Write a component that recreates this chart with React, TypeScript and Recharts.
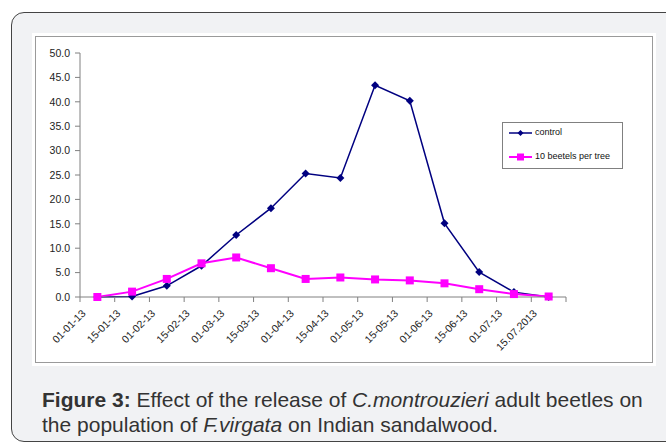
import React from 'react'
import { LineChart, Line, XAxis, YAxis } from 'recharts'

const dates = [
  '01-01-13', '15-01-13', '01-02-13', '15-02-13', '01-03-13', '15-03-13', '01-04-13',
  '15-04-13', '01-05-13', '15-05-13', '01-06-13', '15-06-13', '01-07-13', '15.07.2013',
]
const control = [0, 0.1, 2.3, 6.4, 12.7, 18.2, 25.3, 24.4, 43.4, 40.2, 15.1, 5.1, 1.0, 0]
const beetles = [0, 1.1, 3.7, 6.9, 8.1, 5.9, 3.7, 4.0, 3.6, 3.4, 2.8, 1.6, 0.6, 0.1]
const yTicks = [0, 5, 10, 15, 20, 25, 30, 35, 40, 45, 50]

const chartData = dates.map((d, i) => ({
  pos: i + 0.5,
  date: d,
  control: control[i],
  beetles: beetles[i],
}))

const FONT = '"Liberation Sans", Arial, sans-serif'
const CHART_W = 618
const CHART_H = 327
const MARGIN = { top: 17, right: 87, left: 5, bottom: 0 }
const Y_W = 40
const BAND = (CHART_W - MARGIN.left - MARGIN.right - Y_W) / dates.length

const Diamond = (props: any) => {
  const { cx, cy } = props
  if (cx == null || cy == null) return null
  return <path d={`M${cx},${cy - 4}L${cx + 4},${cy}L${cx},${cy + 4}L${cx - 4},${cy}Z`} fill="#000080" />
}

const Square = (props: any) => {
  const { cx, cy } = props
  if (cx == null || cy == null) return null
  return <rect x={cx - 4} y={cy - 4} width={8} height={8} fill="#ff00ff" />
}

const DateTick = (props: any) => {
  const { x, y, payload } = props
  const label = dates[payload.value]
  if (!label) return null
  const ax = x + BAND / 2 - 11
  const ay = y + 10
  return (
    <text
      x={ax}
      y={ay}
      textAnchor="end"
      fontSize={10.5}
      fontFamily={FONT}
      fill="#222"
      transform={`rotate(-45 ${ax} ${ay})`}
    >
      {label}
    </text>
  )
}

const LegendBox = () => (
  <div
    style={{
      position: 'absolute',
      left: 502,
      top: 122,
      width: 121,
      height: 47,
      border: '1px solid #808080',
      boxSizing: 'border-box',
      background: '#fff',
      fontFamily: FONT,
      fontSize: 9,
      color: '#111',
    }}
  >
    <svg width={30} height={45} style={{ position: 'absolute', left: 5, top: 0 }}>
      <line x1={1} y1={10} x2={24} y2={10} stroke="#000080" strokeWidth={1.5} />
      <path d="M12.5,7L15.5,10L12.5,13L9.5,10Z" fill="#000080" />
      <line x1={1} y1={34} x2={24} y2={34} stroke="#ff00ff" strokeWidth={2} />
      <rect x={9} y={30.5} width={7} height={7} fill="#ff00ff" />
    </svg>
    <div style={{ position: 'absolute', left: 32, top: 4 }}>control</div>
    <div style={{ position: 'absolute', left: 32, top: 28, whiteSpace: 'nowrap' }}>10 beetels per tree</div>
  </div>
)

export default function App() {
  return (
    <div style={{ position: 'absolute', left: 0, top: 0, width: 666, height: 443, background: '#fff', overflow: 'hidden' }}>
      <div
        style={{
          position: 'absolute',
          left: 11,
          top: 12,
          width: 680,
          height: 430,
          background: '#f1f2f4',
          border: '1px solid #444',
          borderRadius: 13,
          boxSizing: 'border-box',
        }}
      />
      <div
        style={{
          position: 'absolute',
          left: 32,
          top: 33,
          width: 624,
          height: 333,
          background: '#fff',
        }}
      />
      <div
        style={{
          position: 'absolute',
          left: 35,
          top: 36,
          width: CHART_W,
          height: CHART_H,
          border: '1.5px solid #9a9a9a',
          boxSizing: 'border-box',
        }}
      />
      <div style={{ position: 'absolute', left: 35, top: 36 }}>
        <LineChart width={CHART_W} height={CHART_H} data={chartData} margin={MARGIN}>
          <XAxis
            dataKey="pos"
            type="number"
            domain={[0, 14]}
            ticks={[0, 1, 2, 3, 4, 5, 6, 7, 8, 9, 10, 11, 12, 13, 14]}
            interval={0}
            height={66}
            stroke="#808080"
            tickSize={5}
            tick={<DateTick />}
            allowDataOverflow
          />
          <YAxis
            domain={[0, 50]}
            ticks={yTicks}
            interval={0}
            width={Y_W}
            stroke="#808080"
            tickSize={5}
            tickMargin={5}
            tickFormatter={(v: number) => v.toFixed(1)}
            tick={{ fontSize: 10.5, fontFamily: FONT, fill: '#222' }}
          />
          <Line
            dataKey="control"
            stroke="#000080"
            strokeWidth={1.5}
            dot={<Diamond />}
            activeDot={false}
            isAnimationActive={false}
          />
          <Line
            dataKey="beetles"
            stroke="#ff00ff"
            strokeWidth={2}
            dot={<Square />}
            activeDot={false}
            isAnimationActive={false}
          />
        </LineChart>
      </div>
      <LegendBox />
      <div
        style={{
          position: 'absolute',
          left: 42,
          top: 387,
          width: 612,
          fontFamily: FONT,
          fontSize: 21,
          lineHeight: '25px',
          color: '#333',
        }}
      >
        <div>
          <b>Figure 3:</b> Effect of the release of <i>C.montrouzieri</i> adult beetles on
        </div>
        <div>
          the population of <i>F.virgata</i> on Indian sandalwood.
        </div>
      </div>
    </div>
  )
}
